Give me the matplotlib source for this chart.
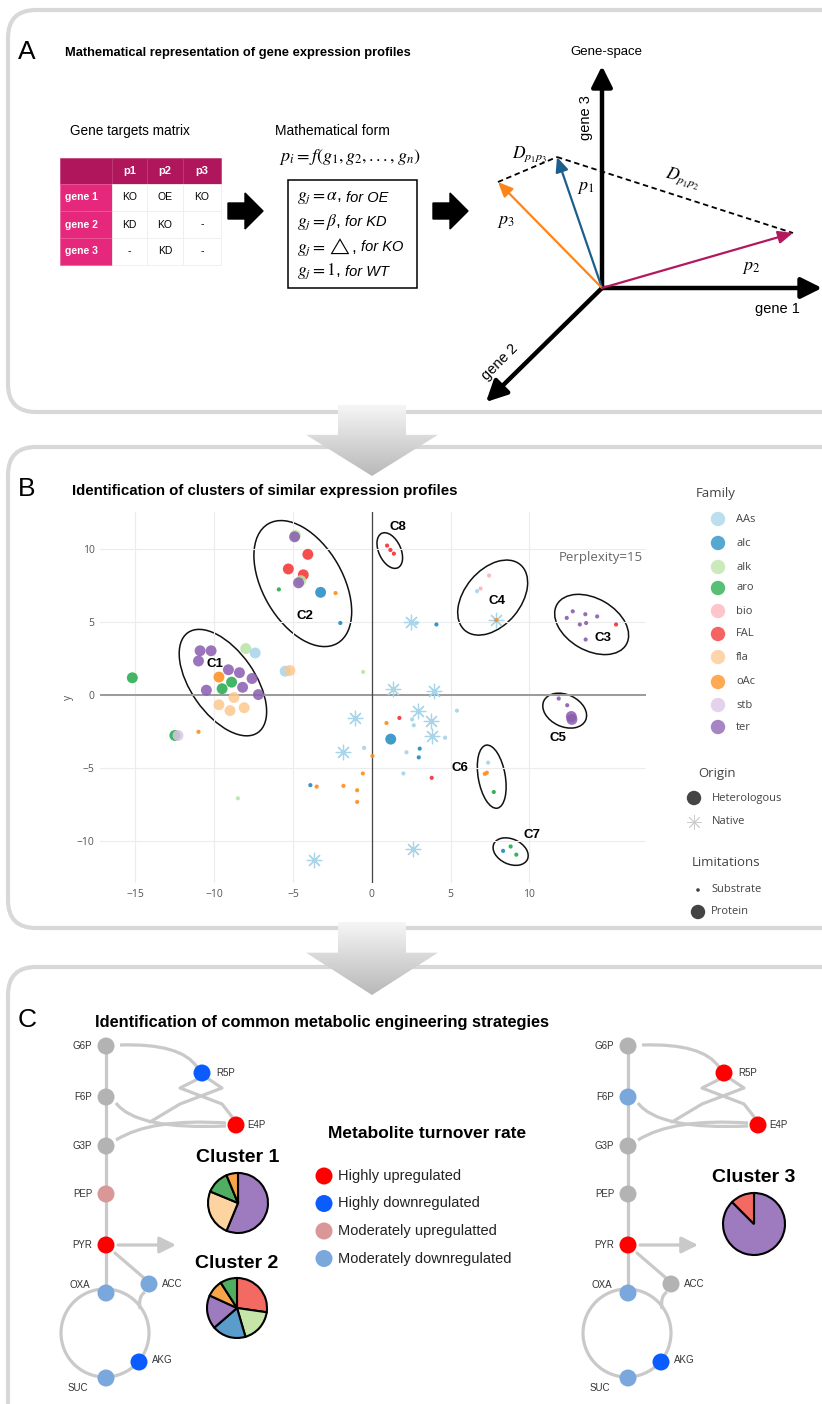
import numpy as np
import matplotlib
matplotlib.use("Agg")
import matplotlib.pyplot as plt
from matplotlib.patches import (FancyBboxPatch, Ellipse, Polygon, Circle,
                                Rectangle, FancyArrow, PathPatch)
from matplotlib.path import Path
from matplotlib.colors import LinearSegmentedColormap

plt.rcParams['font.family'] = ['Liberation Sans', 'DejaVu Sans']
plt.rcParams['mathtext.fontset'] = 'stix'
OPEN = ['Open Sans', 'DejaVu Sans']

# ---------------- data ----------------
genes = ['gene 1', 'gene 2', 'gene 3']
profiles = ['p1', 'p2', 'p3']
targets = [['KO', 'OE', 'KO'],
           ['KD', 'KO', '-'],
           ['-', 'KD', '-']]
rule_math = [r'$g_j = \alpha$,', r'$g_j = \beta$,', r'$g_j = \triangle$,', r'$g_j = 1$,']
rule_text = ['for OE', 'for KD', 'for KO', 'for WT']

families = ['AAs', 'alc', 'alk', 'aro', 'bio', 'FAL', 'fla', 'oAc', 'stb', 'ter']
fam_colors = ['#a6d3ea', '#1f8bc2', '#b9e3a6', '#22aa4a', '#fbb3ba', '#f42f2f',
              '#fdc88e', '#ff8c1a', '#dcc4e6', '#8a5cb0']

# protein-limited, heterologous (large circles)
prot_fam = ['ter', 'ter', 'ter', 'ter', 'ter', 'ter', 'ter', 'ter', 'ter',
            'oAc', 'aro', 'aro', 'fla', 'fla', 'fla', 'fla', 'alk', 'AAs',
            'AAs', 'fla', 'aro', 'aro', 'stb',
            'alk', 'ter', 'FAL', 'FAL', 'FAL', 'alk', 'ter', 'alc',
            'alc', 'ter', 'ter']
prot_x = [-10.9, -10.2, -11.0, -9.1, -8.4, -7.6, -8.2, -7.2, -10.5,
          -9.7, -8.9, -9.5, -9.7, -8.75, -9.0, -8.1, -8.0, -7.4,
          -5.5, -5.2, -15.2, -12.5, -12.3,
          -4.85, -4.9, -4.06, -5.3, -4.35, -4.5, -4.65, -3.25,
          1.2, 12.66, 12.7]
prot_y = [3.0, 3.0, 2.3, 1.7, 1.5, 1.1, 0.5, 0.0, 0.3,
          1.2, 0.85, 0.4, -0.7, -0.2, -1.1, -0.9, 3.15, 2.85,
          1.6, 1.65, 1.15, -2.8, -2.8,
          10.9, 10.8, 9.6, 8.6, 8.2, 7.8, 7.65, 7.0,
          -3.05, -1.5, -1.7]

# substrate-limited (small dots)
subs_fam = ['aro', 'oAc', 'alc', 'alk', 'oAc',
            'FAL', 'FAL', 'FAL',
            'bio', 'bio', 'AAs', 'oAc', 'AAs', 'alc',
            'ter', 'ter', 'ter', 'ter', 'ter', 'ter', 'ter', 'FAL',
            'AAs', 'AAs', 'AAs', 'AAs', 'AAs', 'AAs', 'AAs',
            'FAL', 'FAL',
            'oAc', 'oAc', 'oAc', 'oAc', 'oAc', 'oAc', 'oAc',
            'alc', 'alc', 'alc',
            'ter', 'ter',
            'AAs', 'oAc', 'oAc', 'aro',
            'alc', 'aro', 'aro', 'alk']
subs_x = [-5.9, -2.3, -2.0, -0.55, -11.0,
          0.97, 1.18, 1.4,
          7.44, 6.9, 6.68, 7.9, 2.83, 4.1,
          12.75, 12.37, 13.55, 14.3, 13.2, 13.6, 13.57, 15.5,
          5.4, 2.56, 2.66, 4.65, 2.2, 2.0, -0.49,
          1.75, 3.8,
          0.93, 0.04, -0.57, -3.5, -1.8, -0.93, -0.93,
          3.04, 2.98, -3.9,
          11.86, 12.4,
          7.38, 7.17, 7.3, 7.74,
          8.33, 8.81, 9.17, -8.5]
subs_y = [7.2, 6.95, 4.9, 1.55, -2.55,
          10.2, 9.9, 9.65,
          8.15, 7.26, 7.08, 5.1, 4.9, 4.8,
          5.7, 5.25, 5.5, 5.35, 4.8, 4.9, 3.77, 4.8,
          -1.1, -1.7, -2.1, -2.95, -3.95, -5.4, -3.65,
          -1.6, -5.7,
          -1.95, -4.2, -5.4, -6.3, -6.25, -6.55, -7.35,
          -3.7, -4.3, -6.2,
          -0.27, -0.73,
          -4.66, -5.43, -5.35, -6.67,
          -10.7, -10.4, -10.96, -7.1]

# native genes (asterisks, AAs family)
native_x = [2.5, 1.35, -1.08, -1.8, 3.95, 2.94, 3.74, 3.85, 7.9, -3.7, 2.6]
native_y = [5.0, 0.35, -1.6, -3.9, 0.23, -1.14, -1.83, -2.85, 5.1, -11.3, -10.6]

clusters = ['C1', 'C2', 'C3', 'C4', 'C5', 'C6', 'C7', 'C8']
clu_cx = [-9.45, -4.38, 13.95, 7.67, 12.24, 7.61, 8.81, 1.14]
clu_cy = [0.82, 7.6, 4.8, 6.64, -1.1, -5.62, -10.75, 9.86]
clu_lx = [-9.96, -4.25, 14.7, 7.93, 11.8, 5.58, 10.15, 1.65]
clu_ly = [2.12, 5.41, 3.9, 6.44, -2.95, -5.0, -9.6, 11.5]

# metabolic maps
metabolites = ['G6P', 'F6P', 'G3P', 'PEP', 'PYR', 'OXA', 'ACC', 'AKG', 'SUC', 'R5P', 'E4P']
turnover_labels = ['Highly upregulated', 'Highly downregulated',
                   'Moderately upregulatted', 'Moderately downregulated']
turnover_colors = ['#ff0000', '#0a5cff', '#d99797', '#7aa7dc']
state_left = [-1, -1, -1, 2, 0, 3, 3, 1, 3, 1, 0]     # clusters 1 & 2
state_right = [-1, 3, -1, -1, 0, 3, -1, 1, 3, 0, 0]   # cluster 3

pie_colors = {'ter': '#9e7bbf', 'fla': '#fdd3a0', 'aro': '#4fae62', 'oAc': '#f9a448',
              'FAL': '#f26a62', 'alk': '#c6e5a9', 'alc': '#5a9ccc'}
pie1_fam = ['ter', 'fla', 'aro', 'oAc']
pie1_val = [9, 4, 2, 1]
pie2_fam = ['FAL', 'alk', 'alc', 'ter', 'oAc', 'aro']
pie2_val = [3, 2, 2, 2, 1, 1]
pie3_fam = ['ter', 'FAL']
pie3_val = [7, 1]

# ---------------- canvas ----------------
W, H = 822, 1404
fig = plt.figure(figsize=(W / 100, H / 100), dpi=100)
bg = fig.add_axes([0, 0, 1, 1])
bg.set_xlim(0, W)
bg.set_ylim(H, 0)
bg.axis('off')

for top, bot in [(10, 412), (447, 928), (967, 1450)]:
    bg.add_patch(FancyBboxPatch((8, top), 860, bot - top,
                                boxstyle='round,pad=0,rounding_size=28',
                                fc='white', ec='#d8d8d8', lw=3, zorder=1))

arrow_cmap = LinearSegmentedColormap.from_list('arr', ['#f6f6f6', '#b8b8b8'])


def big_arrow(cx, ytop, ytip):
    neck = ytop + 0.42 * (ytip - ytop)
    pts = [(cx - 34, ytop), (cx + 34, ytop), (cx + 34, neck), (cx + 66, neck),
           (cx, ytip), (cx - 66, neck), (cx - 34, neck)]
    poly = Polygon(pts, closed=True, fc='none', ec='none', zorder=6)
    bg.add_patch(poly)
    grad = np.linspace(0, 1, 256).reshape(-1, 1)
    im = bg.imshow(grad, cmap=arrow_cmap, extent=(cx - 66, cx + 66, ytip, ytop),
                   aspect='auto', zorder=6, origin='upper')
    im.set_clip_path(poly)


big_arrow(372, 405, 476)
big_arrow(372, 922, 995)
bg.set_xlim(0, W)
bg.set_ylim(H, 0)

# ---------------- panel A ----------------
bg.text(18, 52, 'A', fontsize=19, va='center', ha='left')
bg.text(65, 53, 'Mathematical representation of gene expression profiles',
        fontsize=9.3, fontweight='bold', va='center')
bg.text(570, 52, 'Gene-space', fontsize=9.5, va='center')
bg.text(130, 131, 'Gene targets matrix', fontsize=9.8, ha='center', va='center')
bg.text(332, 131, 'Mathematical form', fontsize=10, ha='center', va='center')

# table
col_edges = [60, 112, 147, 183, 221]
row_edges = [158, 184, 211, 238, 265]
head_c, side_c = '#b0165c', '#e6287c'
for i in range(4):
    bg.add_patch(Rectangle((col_edges[i], row_edges[0]), col_edges[i + 1] - col_edges[i],
                           row_edges[1] - row_edges[0], fc=head_c, ec='#c23a78', lw=0.5, zorder=2))
for r in range(3):
    bg.add_patch(Rectangle((col_edges[0], row_edges[r + 1]), col_edges[1] - col_edges[0],
                           row_edges[r + 2] - row_edges[r + 1], fc=side_c, ec='#ee5a98', lw=0.5, zorder=2))
    bg.text(col_edges[0] + 5, (row_edges[r + 1] + row_edges[r + 2]) / 2, genes[r],
            color='white', fontsize=7.5, fontweight='bold', va='center', zorder=3)
    for c in range(3):
        bg.add_patch(Rectangle((col_edges[c + 1], row_edges[r + 1]), col_edges[c + 2] - col_edges[c + 1],
                               row_edges[r + 2] - row_edges[r + 1], fc='white', ec='#eeeeee',
                               lw=0.6, zorder=2))
        bg.text((col_edges[c + 1] + col_edges[c + 2]) / 2, (row_edges[r + 1] + row_edges[r + 2]) / 2,
                targets[r][c], fontsize=7.5, ha='center', va='center', zorder=3)
for c in range(3):
    bg.text((col_edges[c + 1] + col_edges[c + 2]) / 2, (row_edges[0] + row_edges[1]) / 2,
            profiles[c], color='white', fontsize=8, fontweight='bold',
            ha='center', va='center', zorder=3)

for x0 in (228, 433):
    bg.add_patch(FancyArrow(x0, 211, 35, 0, width=16, head_width=36, head_length=18,
                            length_includes_head=True, color='black', zorder=3))

bg.text(350, 157, r'$p_i = f(g_1, g_2, ..., g_n)$', fontsize=13, ha='center', va='center')
bg.add_patch(Rectangle((288, 180), 129, 108, fill=False, ec='black', lw=1.1, zorder=2))
fig.canvas.draw()
rend = fig.canvas.get_renderer()
for k in range(4):
    yy = 198 + k * 24.5
    t = bg.text(297, yy, rule_math[k], fontsize=12.5, va='center', ha='left')
    x_end = t.get_window_extent(renderer=rend).x1
    bg.text(x_end + 4, yy, rule_text[k], fontsize=10.5, va='center', ha='left', style='italic')

# gene-space
O = (602, 288)
for tip in [(602, 66), (822, 288), (486, 402)]:
    bg.annotate('', xy=tip, xytext=O,
                arrowprops=dict(arrowstyle='-|>,head_length=0.9,head_width=0.45',
                                lw=3.2, color='black', shrinkA=0, shrinkB=0, mutation_scale=14),
                zorder=4)
vec_tips = {'p1': (557, 157), 'p3': (498, 182), 'p2': (793, 233)}
vec_cols = {'p1': '#1c5f8c', 'p3': '#ff8418', 'p2': '#b3185e'}
for key in ['p1', 'p3', 'p2']:
    bg.annotate('', xy=vec_tips[key], xytext=O,
                arrowprops=dict(arrowstyle='-|>,head_length=0.8,head_width=0.35',
                                lw=1.6, color=vec_cols[key], shrinkA=0, shrinkB=0, mutation_scale=11),
                zorder=5)
for a, b in [('p3', 'p1'), ('p1', 'p2')]:
    bg.plot([vec_tips[a][0], vec_tips[b][0]], [vec_tips[a][1], vec_tips[b][1]],
            color='black', lw=1.3, ls=(0, (3, 2)), zorder=4)
bg.text(530, 154, r'$D_{p_1p_3}$', fontsize=12.5, ha='center', va='center')
bg.text(586, 187, r'$p_1$', fontsize=13, ha='center', va='center')
bg.text(506, 222, r'$p_3$', fontsize=13, ha='center', va='center')
bg.text(683, 178, r'$D_{p_1p_2}$', fontsize=12.5, ha='center', va='center', rotation=-15)
bg.text(751, 268, r'$p_2$', fontsize=13, ha='center', va='center')
bg.text(586, 118, 'gene 3', fontsize=10.5, rotation=90, ha='center', va='center')
bg.text(777, 309, 'gene 1', fontsize=10.5, ha='center', va='center')
bg.text(500, 362, 'gene 2', fontsize=10.5, rotation=45, ha='center', va='center')

# ---------------- panel B ----------------
bg.text(18, 489, 'B', fontsize=19, va='center', ha='left')
bg.text(72, 491, 'Identification of clusters of similar expression profiles',
        fontsize=10.8, fontweight='bold', va='center')

ax = fig.add_axes([100 / W, 1 - 883 / H, 546 / W, 371 / H])
ax.set_xlim(-17.25, 17.4)
ax.set_ylim(-12.9, 12.5)
ax.set_facecolor('none')
for s in ax.spines.values():
    s.set_visible(False)
ax.set_xticks([-15, -10, -5, 0, 5, 10])
ax.set_yticks([-10, -5, 0, 5, 10])
ax.set_xticklabels(['\u221215', '\u221210', '\u22125', '0', '5', '10'])
ax.set_yticklabels(['\u221210', '\u22125', '0', '5', '10'])
ax.tick_params(length=0, labelsize=7.5, colors='#555555', pad=4)
for lab in ax.get_xticklabels() + ax.get_yticklabels():
    lab.set_family(OPEN)
ax.grid(True, color='#ececec', lw=0.8)
ax.set_axisbelow(True)
ax.axhline(0, color='#9a9a9a', lw=1.4, zorder=1)
ax.axvline(0, color='#444444', lw=0.9, zorder=1)
ax.set_ylabel('y', fontsize=7.5, color='#555555', labelpad=2, family=OPEN)

fam_map = dict(zip(families, fam_colors))
ax.scatter(native_x, native_y, marker=(8, 2, 0), s=110, lw=0.9,
           color='#a9d5ea', zorder=2)
ax.scatter(prot_x, prot_y, s=62, c=[fam_map[f] for f in prot_fam],
           alpha=0.85, lw=0, zorder=3)
ax.scatter(subs_x, subs_y, s=9, c=[fam_map[f] for f in subs_fam],
           alpha=0.9, lw=0, zorder=4)
ax.text(17.2, 9.4, 'Perplexity=15', fontsize=9.5, color='#666666', ha='right',
        va='center', family=OPEN)

# cluster ellipses (drawn in pixel space so rotation is undistorted)
ell_w = [122, 138, 80, 86, 46, 64, 37, 38]
ell_h = [64, 80, 52, 56, 32, 27, 25, 22]
ell_ang = [-55, -60, -30, 50, -25, -80, -25, -65]
fig.canvas.draw()
for k, name in enumerate(clusters):
    px, py = ax.transData.transform((clu_cx[k], clu_cy[k]))
    bg.add_patch(Ellipse((px, H - py), ell_w[k], ell_h[k], angle=-ell_ang[k],
                         fill=False, ec='#111111', lw=1.1, zorder=7))
    ax.text(clu_lx[k], clu_ly[k], name, fontsize=9.5, fontweight='bold',
            ha='center', va='center', zorder=6)

# plotly-like legend
bg.text(716, 493, 'Family', fontsize=9.5, color='#444444', ha='center', va='center', family=OPEN)
leg_y = [519, 543, 567, 588, 611, 634, 657, 682, 705, 727]
for k, fam in enumerate(families):
    bg.add_patch(Circle((718, leg_y[k]), 7.2, fc=fam_colors[k], alpha=0.75, lw=0, zorder=3))
    bg.text(736, leg_y[k], fam, fontsize=8, color='#444444', va='center', family=OPEN)
bg.text(698, 773, 'Origin', fontsize=9.5, color='#444444', va='center', family=OPEN)
bg.add_patch(Circle((694, 798), 7.2, fc='#444444', lw=0, zorder=3))
bg.text(712, 798, 'Heterologous', fontsize=8, color='#444444', va='center', family=OPEN)
bg.scatter([694], [822], marker=(8, 2, 0), s=100, lw=0.6, color='#cccccc', zorder=3)
bg.text(712, 822, 'Native', fontsize=8, color='#444444', va='center', family=OPEN)
bg.text(692, 863, 'Limitations', fontsize=9.5, color='#444444', va='center', family=OPEN)
bg.add_patch(Circle((698, 890), 1.8, fc='#444444', lw=0, zorder=3))
bg.text(711, 890, 'Substrate', fontsize=8, color='#444444', va='center', family=OPEN)
bg.add_patch(Circle((698, 912), 7.2, fc='#444444', lw=0, zorder=3))
bg.text(711, 912, 'Protein', fontsize=8, color='#444444', va='center', family=OPEN)
bg.set_xlim(0, W)
bg.set_ylim(H, 0)

# ---------------- panel C ----------------
bg.text(18, 1020, 'C', fontsize=19, va='center', ha='left')
bg.text(95, 1022, 'Identification of common metabolic engineering strategies',
        fontsize=11.8, fontweight='bold', va='center')

node_rel = [(0, 0), (0, 51), (0, 100), (0, 148), (0, 199), (0, 247),
            (43, 238), (33, 316), (0, 332), (96, 27), (130, 79)]
lab_rel = [(-14, 0, 'right'), (-14, 0, 'right'), (-14, 0, 'right'), (-14, 0, 'right'),
           (-14, 0, 'right'), (-26, -8, 'center'), (13, 0, 'left'), (13, -2, 'left'),
           (-28, 10, 'center'), (14, 0, 'left'), (11, 0, 'left')]
edge_c = '#c9c9c9'


def draw_map(ox, oy, states):
    P = lambda dx, dy: (ox + dx, oy + dy)
    kw = dict(color=edge_c, lw=2.3, solid_capstyle='round', zorder=2)
    bg.plot([ox, ox], [oy, oy + 247], **kw)
    bg.add_patch(Circle(P(-1, 287), 44, fill=False, ec=edge_c, lw=2.3, zorder=2))
    curves = [[P(14, -1), P(75, -3), P(91, 21)],
              [P(10, 57), P(30, 84), P(120, 80)],
              [P(10, 94), P(45, 72), P(120, 77)],
              [P(39, 246), P(32, 250), P(34, 263)]]
    for pts in curves:
        bg.add_patch(PathPatch(Path(pts, [Path.MOVETO, Path.CURVE3, Path.CURVE3]),
                               fill=False, ec=edge_c, lw=2.3, zorder=2))
    for line in ([P(96, 31), P(74, 42), P(116, 58), P(131, 77)],
                 [P(101, 32), P(116, 42), P(74, 58), P(44, 76)],
                 [P(9, 207), P(38, 232)]):
        xs, ys = zip(*line)
        bg.plot(xs, ys, **kw)
    bg.annotate('', xy=P(70, 199), xytext=P(12, 199),
                arrowprops=dict(arrowstyle='-|>,head_length=0.7,head_width=0.35',
                                color=edge_c, lw=2.3, mutation_scale=14,
                                shrinkA=0, shrinkB=0), zorder=2)
    for k, name in enumerate(metabolites):
        c = '#b3b3b3' if states[k] < 0 else turnover_colors[states[k]]
        x, y = P(*node_rel[k])
        bg.add_patch(Circle((x, y), 8.5, fc=c, ec='none', zorder=4))
        dx, dy, ha = lab_rel[k]
        bg.text(x + dx, y + dy, name, fontsize=7, color='#333333', ha=ha, va='center')


draw_map(106, 1046, state_left)
draw_map(628, 1046, state_right)


def pie_at(cx, cy, r, fams, vals, title):
    f = 1.12
    pa = fig.add_axes([(cx - r * f) / W, 1 - (cy + r * f) / H, 2 * r * f / W, 2 * r * f / H])
    pa.pie(vals, colors=[pie_colors[q] for q in fams], startangle=90, counterclock=False,
           wedgeprops=dict(edgecolor='black', linewidth=1.5))
    pa.set_xlim(-f, f)
    pa.set_ylim(-f, f)
    pa.set_aspect('equal')
    pa.axis('off')
    bg.text(cx, cy - r - 15, title, fontsize=14, fontweight='bold', ha='center', va='center')


pie_at(238, 1203, 30, pie1_fam, pie1_val, 'Cluster 1')
pie_at(237, 1308, 30, pie2_fam, pie2_val, 'Cluster 2')
pie_at(754, 1224, 31, pie3_fam, pie3_val, 'Cluster 3')

bg.text(427, 1133, 'Metabolite turnover rate', fontsize=12.5, fontweight='bold',
        ha='center', va='center')
for k, lab in enumerate(turnover_labels):
    yy = 1176 + k * 27.5
    bg.add_patch(Circle((324, yy), 8.5, fc=turnover_colors[k], ec='none', zorder=3))
    bg.text(338, yy, lab, fontsize=10.5, va='center', color='#222222')

bg.set_xlim(0, W)
bg.set_ylim(H, 0)
fig.savefig('out.png', dpi=100)
